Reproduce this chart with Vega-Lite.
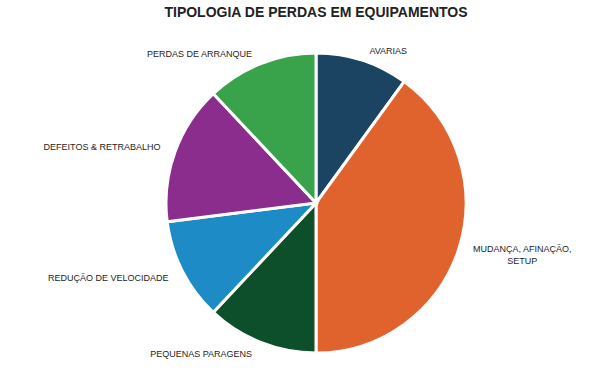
{
  "$schema": "https://vega.github.io/schema/vega-lite/v6.json",
  "width": 580,
  "height": 344,
  "autosize": {"type": "none"},
  "padding": {"left": 26, "top": 31, "right": 0, "bottom": 0},
  "background": "white",
  "view": {"stroke": null},
  "title": {
    "text": "TIPOLOGIA DE PERDAS EM EQUIPAMENTOS",
    "font": "Liberation Sans",
    "fontSize": 14,
    "fontWeight": "bold",
    "color": "#222222",
    "anchor": "middle",
    "offset": 11
  },
  "data": {
    "values": [
      {"i": 1, "categoria": "AVARIAS", "valor": 10},
      {"i": 2, "categoria": "MUDANÇA, AFINAÇÃO,\nSETUP", "valor": 40},
      {"i": 3, "categoria": "PEQUENAS PARAGENS", "valor": 12},
      {"i": 4, "categoria": "REDUÇÃO DE VELOCIDADE", "valor": 11},
      {"i": 5, "categoria": "DEFEITOS & RETRABALHO", "valor": 15},
      {"i": 6, "categoria": "PERDAS DE ARRANQUE", "valor": 12}
    ]
  },
  "encoding": {
    "theta": {"field": "valor", "type": "quantitative", "stack": true},
    "order": {"field": "i", "type": "quantitative", "sort": "ascending"}
  },
  "layer": [
    {
      "mark": {"type": "arc", "outerRadius": 150, "stroke": "white", "strokeWidth": 3},
      "encoding": {
        "color": {
          "field": "categoria",
          "type": "nominal",
          "legend": null,
          "scale": {
            "domain": ["AVARIAS", "MUDANÇA, AFINAÇÃO,\nSETUP", "PEQUENAS PARAGENS", "REDUÇÃO DE VELOCIDADE", "DEFEITOS & RETRABALHO", "PERDAS DE ARRANQUE"],
            "range": ["#1a4461", "#e0622d", "#0e4f2b", "#1d8bc5", "#8b2d8c", "#38a34a"]
          }
        }
      }
    },
    {
      "mark": {
        "type": "text",
        "radius": 160,
        "align": {"expr": "datum.i >= 3 ? 'right' : (datum.i == 2 ? 'center' : 'left')"},
        "dx": {"expr": "datum.i >= 3 ? -5 : (datum.i == 2 ? 54 : 4)"},
        "dy": {"expr": "datum.i == 4 ? 2 : (datum.i == 5 ? -2 : (datum.i == 2 ? -3 : (datum.i == 3 ? 2 : 0)))"},
        "baseline": "middle",
        "lineBreak": "\n",
        "lineHeight": 12,
        "font": "Liberation Sans",
        "fontSize": 9,
        "fill": "#1e1e1e"
      },
      "encoding": {"text": {"field": "categoria"}}
    }
  ]
}
